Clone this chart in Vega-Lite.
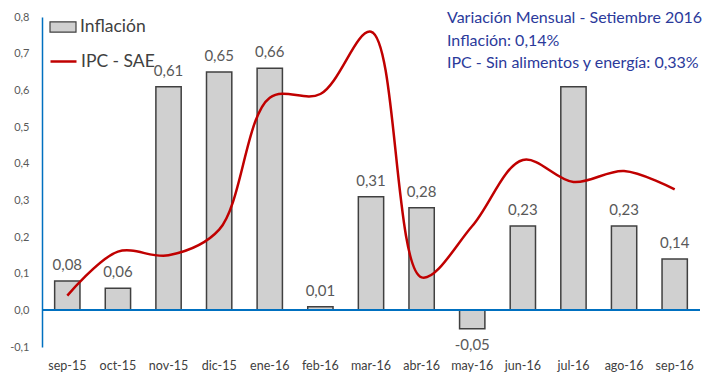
{
  "$schema": "https://vega.github.io/schema/vega-lite/v6.json",
  "autosize": "none",
  "width": 658,
  "height": 330,
  "padding": {"left": 42, "top": 17, "right": 10, "bottom": 25},
  "config": {
    "locale": {"number": {"decimal": ",", "thousands": ".", "grouping": [3], "currency": ["", ""], "minus": "-"}},
    "view": {"stroke": null},
    "font": "Lato",
    "axisY": {"labelOverlap": false, "labelFlush": false, "labelBound": false, "grid": false, "ticks": false, "domainColor": "#0070C0", "domainWidth": 1.5, "labelPadding": 13, "labelFontSize": 11, "labelColor": "#595959", "title": null}
  },
  "title": {
    "text": ["Variación Mensual - Setiembre 2016", "Inflación: 0,14%", "IPC - Sin alimentos y energía: 0,33%"],
    "anchor": "start",
    "frame": "group",
    "orient": "top",
    "align": "left",
    "baseline": "top",
    "dx": 405,
    "dy": 60,
    "offset": 0,
    "fontSize": 16,
    "fontWeight": "normal",
    "color": "#2B3A9B",
    "lineHeight": 22.5
  },
  "data": {
    "values": [
      {"mes": "sep-15", "inf": 0.08, "sae": 0.04},
      {"mes": "oct-15", "inf": 0.06, "sae": 0.16},
      {"mes": "nov-15", "inf": 0.61, "sae": 0.15},
      {"mes": "dic-15", "inf": 0.65, "sae": 0.22},
      {"mes": "ene-16", "inf": 0.66, "sae": 0.58},
      {"mes": "feb-16", "inf": 0.01, "sae": 0.59},
      {"mes": "mar-16", "inf": 0.31, "sae": 0.76},
      {"mes": "abr-16", "inf": 0.28, "sae": 0.09},
      {"mes": "may-16", "inf": -0.05, "sae": 0.23},
      {"mes": "jun-16", "inf": 0.23, "sae": 0.41},
      {"mes": "jul-16", "inf": 0.61, "sae": 0.35},
      {"mes": "ago-16", "inf": 0.23, "sae": 0.38},
      {"mes": "sep-16", "inf": 0.14, "sae": 0.33}
    ]
  },
  "encoding": {
    "x": {
      "field": "mes",
      "type": "ordinal",
      "sort": null,
      "scale": {"paddingInner": 0.5, "paddingOuter": 0.25},
      "axis": {"title": null, "labelAngle": 0, "ticks": false, "domain": false, "labelPadding": 12, "labelFontSize": 12.5, "labelColor": "#404040"}
    }
  },
  "layer": [
    {
      "mark": {"type": "bar", "stroke": "#404040", "strokeWidth": 1.5},
      "encoding": {
        "y": {
          "field": "inf",
          "type": "quantitative",
          "scale": {"domain": [-0.1, 0.8], "nice": false, "zero": false},
          "axis": {"values": [-0.1, 0, 0.1, 0.2, 0.3, 0.4, 0.5, 0.6, 0.7, 0.8], "format": ".1f", "labelOverlap": false, "tickCount": 10}
        },
        "fill": {
          "datum": "Inflación",
          "type": "nominal",
          "scale": {"range": ["#d0d0d0"]},
          "legend": {"orient": "none", "legendX": 7, "legendY": -4, "title": null, "padding": 0, "symbolType": "M-1,-0.4H1V0.4H-1Z", "symbolSize": 676, "symbolStrokeColor": "#404040", "symbolStrokeWidth": 1.2, "labelFontSize": 17.5, "labelColor": "#404040", "labelOffset": 3}
        }
      }
    },
    {
      "mark": {"type": "rule", "color": "#0070C0", "strokeWidth": 1.5},
      "encoding": {"x": null, "y": {"datum": 0, "type": "quantitative", "axis": {"values": [-0.1, 0, 0.1, 0.2, 0.3, 0.4, 0.5, 0.6, 0.7, 0.8], "format": ".1f", "labelOverlap": false, "tickCount": 10}}}
    },
    {
      "transform": [{"filter": "datum.inf >= 0 && datum.mes != 'jul-16'"}],
      "mark": {"type": "text", "baseline": "alphabetic", "dy": -11, "fontSize": 15, "color": "#595959"},
      "encoding": {"y": {"field": "inf", "type": "quantitative", "axis": {"values": [-0.1, 0, 0.1, 0.2, 0.3, 0.4, 0.5, 0.6, 0.7, 0.8], "format": ".1f", "labelOverlap": false, "tickCount": 10}}, "text": {"field": "inf", "type": "quantitative", "format": ".2f"}}
    },
    {
      "transform": [{"filter": "datum.inf < 0"}],
      "mark": {"type": "text", "baseline": "top", "dy": 9, "fontSize": 15, "color": "#595959"},
      "encoding": {"y": {"field": "inf", "type": "quantitative", "axis": {"values": [-0.1, 0, 0.1, 0.2, 0.3, 0.4, 0.5, 0.6, 0.7, 0.8], "format": ".1f", "labelOverlap": false, "tickCount": 10}}, "text": {"field": "inf", "type": "quantitative", "format": ".2f"}}
    },
    {
      "mark": {"type": "line", "interpolate": "catmull-rom", "strokeWidth": 2.5},
      "encoding": {
        "y": {"field": "sae", "type": "quantitative", "axis": {"values": [-0.1, 0, 0.1, 0.2, 0.3, 0.4, 0.5, 0.6, 0.7, 0.8], "format": ".1f", "labelOverlap": false, "tickCount": 10}},
        "stroke": {
          "datum": "IPC - SAE",
          "type": "nominal",
          "scale": {"range": ["#C00000"]},
          "legend": {"orient": "none", "legendX": 7, "legendY": 30, "title": null, "padding": 0, "symbolType": "stroke", "symbolSize": 676, "symbolStrokeWidth": 2.5, "labelFontSize": 17.5, "labelColor": "#404040", "labelOffset": 3}
        }
      }
    }
  ]
}
